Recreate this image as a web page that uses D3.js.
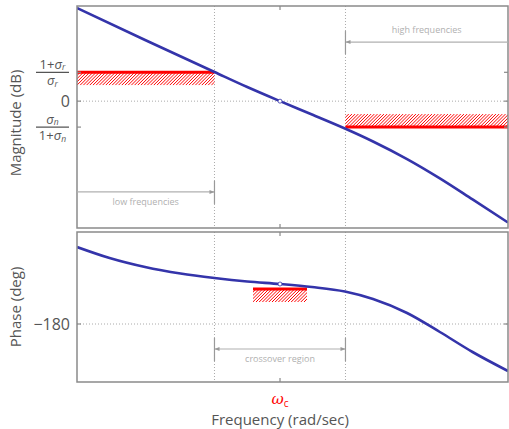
<!DOCTYPE html>
<html><head><meta charset="utf-8">
<script src="https://cdn.jsdelivr.net/npm/d3@7"></script>
<style>
body{margin:0;background:#fff;}
svg text{font-family:"Open Sans","DejaVu Sans",sans-serif;}
</style></head>
<body>
<svg id="chart" width="509" height="429"></svg>
<script>
// ---------- data ----------
const magFreq  = [0.0282, 0.0933, 0.316, 0.562, 1, 1.754, 3.13, 5.13, 9.33, 16.6, 29.5, 55.0];
const magDb    = [32.3, 21.2, 10.1, 4.9, 0, -4.65, -9.5, -14.0, -20.1, -26.8, -34.1, -42.1];
const phaseFreq = [0.0282, 0.050, 0.0933, 0.174, 0.316, 0.562, 1, 1.754, 3.13, 5.13, 9.33, 16.6, 29.5, 55.0];
const phaseDeg  = [-103, -114, -123, -129.5, -134, -137.5, -140, -143, -147.5, -155, -169, -188, -208, -227];
const freqDomain = [0.0282, 55.0];
const magDomain = [-44, 33];
const phaseDomain = [-238, -88];
const omegaC = 1, omegaLow = 0.316, omegaHigh = 3.16;
const lowGainBound = 10, highGainBound = -9;   // dB
const phaseBound = -145, phaseBoundFreq = [0.622, 1.607];
const magTicks = [10, 0, -9];
const phaseTicks = [-180];
const lowArrowDb = -31.5, highArrowDb = 20.5, crossArrowDeg = -205;
const labels = {low: "low frequencies", high: "high frequencies", cross: "crossover region",
  xTitle: "Frequency (rad/sec)", magTitle: "Magnitude (dB)", phaseTitle: "Phase (deg)"};

// ---------- layout ----------
const svg = d3.select("#chart");
const L = 77, R = 508;
const magTop = 6, magBot = 228, phTop = 232, phBot = 382;
const x = d3.scaleLog().domain(freqDomain).range([L, R]);
const yM = d3.scaleLinear().domain(magDomain).range([magBot, magTop]);
const yP = d3.scaleLinear().domain(phaseDomain).range([phBot, phTop]);
const frameCol = "#8a8a8a", gridCol = "#aaa", textCol = "#555", annCol = "#b0b0b0";
const curveCol = "#3434aa", red = "#ff0000";

const defs = svg.append("defs");
defs.append("clipPath").attr("id","clipM").append("rect").attr("x",L).attr("y",magTop).attr("width",R-L).attr("height",magBot-magTop);
defs.append("clipPath").attr("id","clipP").append("rect").attr("x",L).attr("y",phTop).attr("width",R-L).attr("height",phBot-phTop);
const mk = defs.append("marker").attr("id","arr").attr("viewBox","0 0 10 10").attr("refX",10).attr("refY",5)
  .attr("markerWidth",7).attr("markerHeight",5).attr("orient","auto-start-reverse").attr("markerUnits","userSpaceOnUse");
mk.append("path").attr("d","M0,1 L10,5 L0,9 z").attr("fill","#999");

function grid(yScale, ticks, top, bot){
  const g = svg.append("g");
  [omegaLow, omegaHigh].forEach(w=>{
    g.append("line").attr("x1",x(w)).attr("x2",x(w)).attr("y1",top).attr("y2",bot)
     .attr("stroke",gridCol).attr("stroke-dasharray","1,2").attr("stroke-width",1);
  });
  ticks.forEach(t=>{
    g.append("line").attr("x1",L).attr("x2",R).attr("y1",yScale(t)).attr("y2",yScale(t))
     .attr("stroke",gridCol).attr("stroke-dasharray","1,2").attr("stroke-width",1);
  });
}
grid(yM, [0], magTop, magBot);
grid(yP, phaseTicks, phTop, phBot);

// gain / phase bands with hatching
let bandId = 0;
function band(x1, x2, yLine, hatchDir){
  const h = 13;
  const yTop = hatchDir>0 ? yLine : yLine-h;
  const id = "band"+(bandId++);
  defs.append("clipPath").attr("id",id).append("rect").attr("x",x1).attr("y",yTop).attr("width",x2-x1).attr("height",h);
  const g = svg.append("g").attr("clip-path",`url(#${id})`);
  d3.range(x1-h, x2+1, 3.2).forEach(k=>{
    g.append("line").attr("x1",k).attr("y1",yTop+h).attr("x2",k+h).attr("y2",yTop)
      .attr("stroke",red).attr("stroke-width",1);
  });
  svg.append("line").attr("x1",x1).attr("x2",x2).attr("y1",yLine).attr("y2",yLine)
    .attr("stroke",red).attr("stroke-width",3);
}
band(x(freqDomain[0]), x(omegaLow), yM(lowGainBound), 1);
band(x(omegaHigh), x(freqDomain[1]), yM(highGainBound), -1);
band(x(phaseBoundFreq[0]), x(phaseBoundFreq[1]), yP(phaseBound), 1);

// curves
const magLine = d3.line().x((d,i)=>x(magFreq[i])).y(d=>yM(d)).curve(d3.curveMonotoneX);
svg.append("path").attr("d", magLine(magDb)).attr("fill","none").attr("stroke",curveCol)
  .attr("stroke-width",2.6).attr("clip-path","url(#clipM)");
const phLine = d3.line().x((d,i)=>x(phaseFreq[i])).y(d=>yP(d)).curve(d3.curveMonotoneX);
svg.append("path").attr("d", phLine(phaseDeg)).attr("fill","none").attr("stroke",curveCol)
  .attr("stroke-width",2.6).attr("clip-path","url(#clipP)");
svg.append("circle").attr("cx",x(omegaC)).attr("cy",yM(0)).attr("r",2).attr("fill","#fff").attr("stroke",curveCol).attr("stroke-width",0.8);
svg.append("circle").attr("cx",x(omegaC)).attr("cy",yP(phaseDeg[phaseFreq.indexOf(omegaC)])).attr("r",2).attr("fill","#fff").attr("stroke",curveCol).attr("stroke-width",0.8);

// frames and ticks
[[magTop,magBot],[phTop,phBot]].forEach(([t,b])=>{
  svg.append("rect").attr("x",L).attr("y",t).attr("width",R-L).attr("height",b-t)
    .attr("fill","none").attr("stroke",frameCol).attr("stroke-width",1.5);
  svg.append("line").attr("x1",x(omegaC)).attr("x2",x(omegaC)).attr("y1",t).attr("y2",t+4).attr("stroke",frameCol).attr("stroke-width",1.2);
  svg.append("line").attr("x1",x(omegaC)).attr("x2",x(omegaC)).attr("y1",b).attr("y2",b-4).attr("stroke",frameCol).attr("stroke-width",1.2);
});
function yTicks(scale, ticks){
  ticks.forEach(t=>{
    svg.append("line").attr("x1",L).attr("x2",L+4).attr("y1",scale(t)).attr("y2",scale(t)).attr("stroke",frameCol).attr("stroke-width",1.2);
    svg.append("line").attr("x1",R).attr("x2",R-4).attr("y1",scale(t)).attr("y2",scale(t)).attr("stroke",frameCol).attr("stroke-width",1.2);
  });
}
yTicks(yM, magTicks); yTicks(yP, phaseTicks);

// tick labels
svg.append("text").attr("x",70).attr("y",yM(0)).attr("dy","0.36em").attr("text-anchor","end")
  .attr("font-size",16).attr("fill",textCol).text("0");
svg.append("text").attr("x",70).attr("y",yP(-180)).attr("dy","0.36em").attr("text-anchor","end")
  .attr("font-size",16).attr("fill",textCol).text("\u2212180");
function frac(cy, numParts, denParts){
  const cx = 52.5;
  const mkText = (y, parts)=>{
    const t = svg.append("text").attr("x",cx).attr("y",y).attr("text-anchor","middle")
      .attr("font-family","'DejaVu Serif','Liberation Serif',serif").attr("font-size",13).attr("fill",textCol);
    parts.forEach(p=>{
      const ts = t.append("tspan").text(p.t);
      if(p.i) ts.attr("font-style","italic");
      if(p.sub) ts.attr("font-size",8.5).attr("dy",1.5);
    });
  };
  mkText(cy-3.5, numParts);
  svg.append("line").attr("x1",36).attr("x2",69).attr("y1",cy).attr("y2",cy).attr("stroke",textCol).attr("stroke-width",1.2);
  mkText(cy+13, denParts);
}
frac(yM(lowGainBound),
  [{t:"1+"},{t:"\u03c3",i:1},{t:"r",i:1,sub:1}],
  [{t:"\u03c3",i:1},{t:"r",i:1,sub:1}]);
frac(yM(highGainBound),
  [{t:"\u03c3",i:1},{t:"n",i:1,sub:1}],
  [{t:"1+"},{t:"\u03c3",i:1},{t:"n",i:1,sub:1}]);

// annotation arrows
function arrow(x1, x2, y, startHead, endHead, bars){
  const l = svg.append("line").attr("x1",x1).attr("x2",x2).attr("y1",y).attr("y2",y)
    .attr("stroke",annCol).attr("stroke-width",1.2);
  if(startHead) l.attr("marker-start","url(#arr)");
  if(endHead) l.attr("marker-end","url(#arr)");
  bars.forEach(bx=>svg.append("line").attr("x1",bx).attr("x2",bx).attr("y1",y-11).attr("y2",y+12)
    .attr("stroke","#999").attr("stroke-width",1.2));
}
arrow(x(freqDomain[0]), x(omegaLow), yM(lowArrowDb), false, true, [x(omegaLow)]);
svg.append("text").attr("x",(x(freqDomain[0])+x(omegaLow))/2).attr("y",yM(lowArrowDb)+10).attr("dy","0.35em")
  .attr("text-anchor","middle").attr("font-size",9).attr("fill",annCol).text(labels.low);
arrow(x(omegaHigh), x(freqDomain[1]), yM(highArrowDb), true, false, [x(omegaHigh)]);
svg.append("text").attr("x",(x(omegaHigh)+x(freqDomain[1]))/2).attr("y",yM(highArrowDb)-12).attr("dy","0.35em")
  .attr("text-anchor","middle").attr("font-size",9).attr("fill",annCol).text(labels.high);
arrow(x(omegaLow), x(omegaHigh), yP(crossArrowDeg), true, true, [x(omegaLow), x(omegaHigh)]);
svg.append("text").attr("x",x(omegaC)).attr("y",yP(crossArrowDeg)+10).attr("dy","0.35em")
  .attr("text-anchor","middle").attr("font-size",9).attr("fill",annCol).text(labels.cross);

// axis titles
const wc = svg.append("text").attr("x",x(omegaC)).attr("y",404).attr("text-anchor","middle")
  .attr("fill",red).attr("font-size",15);
wc.append("tspan").attr("font-family","'DejaVu Serif',serif").attr("font-style","italic").text("\u03c9");
wc.append("tspan").attr("font-size",10).attr("dy",3).text("c");
svg.append("text").attr("x",x(omegaC)).attr("y",425).attr("text-anchor","middle")
  .attr("font-size",15).attr("fill",textCol).text(labels.xTitle);
svg.append("text").attr("transform",`translate(21,${(magTop+magBot)/2+6}) rotate(-90)`).attr("text-anchor","middle")
  .attr("font-size",15).attr("fill",textCol).text(labels.magTitle);
svg.append("text").attr("transform",`translate(21,${(phTop+phBot)/2}) rotate(-90)`).attr("text-anchor","middle")
  .attr("font-size",15).attr("fill",textCol).text(labels.phaseTitle);
</script>
</body></html>
